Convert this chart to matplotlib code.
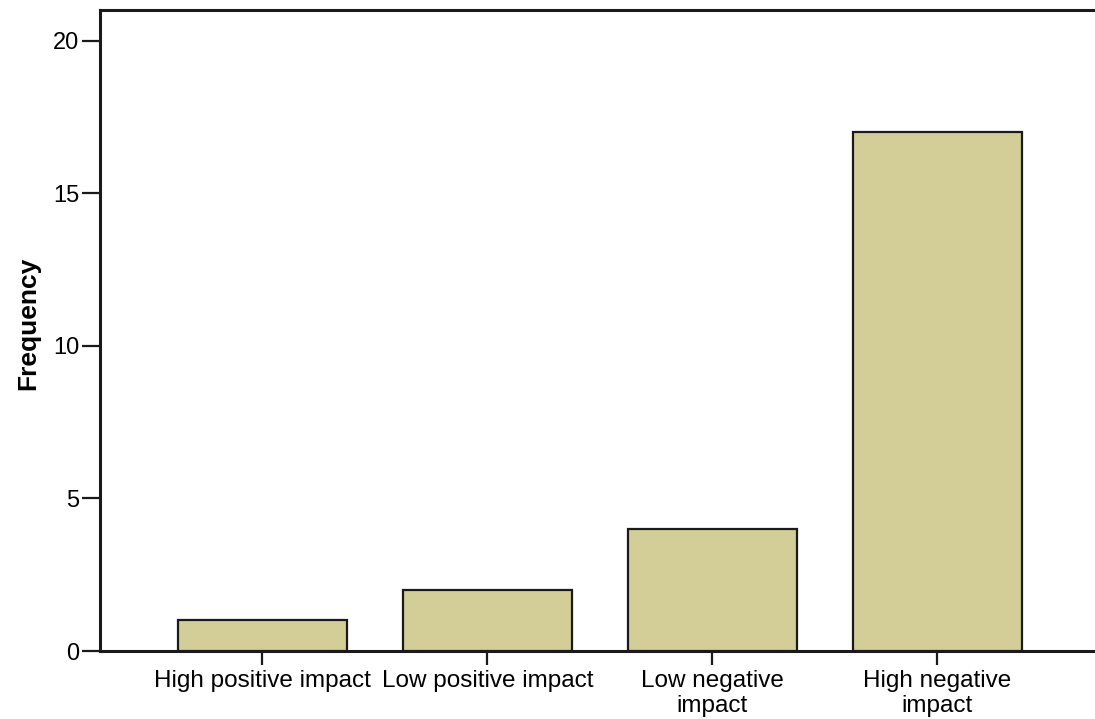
import matplotlib.pyplot as plt

categories = ['High positive impact', 'Low positive impact',
              'Low negative\nimpact', 'High negative\nimpact']
frequency = [1, 2, 4, 17]
yticks = [0, 5, 10, 15, 20]

plt.rcParams['font.family'] = ['Liberation Sans', 'DejaVu Sans']

fig = plt.figure(figsize=(10.95, 7.19), dpi=100)
W, H = 1095, 719
ax = fig.add_axes([100 / W, (H - 651) / H, (W - 100) / W, (651 - 10) / H])

x = range(len(categories))
ax.bar(x, frequency, width=0.75, color='#d3ce97', edgecolor='#1a1a1a',
       linewidth=1.6, zorder=3)

ax.set_xlim(-0.722, 3.7)
ax.set_ylim(0, 21.0)
ax.set_xticks(list(x))
ax.set_xticklabels(categories, fontsize=17.5, linespacing=1.15)
ax.set_yticks(yticks)
ax.set_yticklabels([str(v) for v in yticks], fontsize=17)

for side in ['left', 'top', 'bottom']:
    ax.spines[side].set_linewidth(2.2)
    ax.spines[side].set_color('#1a1a1a')
ax.spines['right'].set_visible(False)

ax.tick_params(axis='y', length=13, width=1.6, color='#1a1a1a', pad=2)
ax.tick_params(axis='x', length=10, width=1.6, color='#1a1a1a', pad=4)

ax.set_ylabel('Frequency', fontsize=19, fontweight='bold')
ax.yaxis.set_label_coords(-60 / 995, (651 - 323) / 641)

fig.savefig('out.png', dpi=100)
